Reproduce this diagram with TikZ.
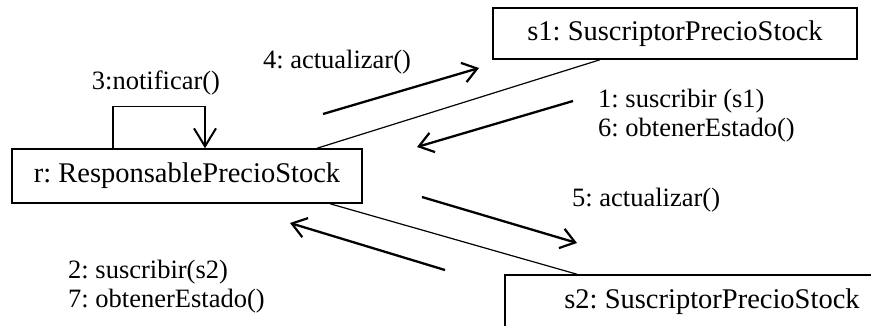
\documentclass[tikz,border=0pt]{standalone}
\usepackage{fontspec}
\setmainfont{Liberation Serif}
\usetikzlibrary{arrows.meta}
\frenchspacing
\tikzset{
  obj/.style={draw, line width=1.5pt, inner sep=0pt, font=\fontsize{28.5}{32}\selectfont},
  assoc/.style={line width=1.2pt},
  msg/.style={line width=2.3pt, -{Straight Barb[length=14pt,width=20pt,line width=2.2pt]}},
  selfmsg/.style={line width=1.5pt, -{Straight Barb[length=18pt,width=22pt,line width=2pt]}},
  lbl/.style={font=\fontsize{26.5}{29}\selectfont, inner sep=0pt, align=left},
}
\begin{document}
\begin{tikzpicture}[x=1pt,y=-1pt]
\useasboundingbox (0,0) rectangle (871,325);
% objects
\node[obj, minimum width=350pt, minimum height=54pt] (r) at (187,176) {r: ResponsablePrecioStock};
\node[obj, minimum width=364pt, minimum height=51pt] (s1) at (675,33.5) {s1: SuscriptorPrecioStock};
\node[obj, minimum width=414pt, minimum height=54pt] (s2) at (712,302) {s2: SuscriptorPrecioStock};
% associations
\draw[assoc] ([xshift=130pt]r.north) -- ([xshift=-75pt]s1.south);
\draw[assoc] ([xshift=143pt]r.south) -- ([xshift=-135pt]s2.north);
% self message
\draw[selfmsg] ([xshift=-74pt]r.north) -- ++(0,-42) -| ([xshift=18pt]r.north);
\node[lbl] (l3) at (156,83) {3:notificar()};
% message arrows
\coordinate (a4s) at (323,114); \coordinate (a4e) at (479,68);
\coordinate (a1s) at (573,101); \coordinate (a1e) at (417,147);
\coordinate (a5s) at (422,197); \coordinate (a5e) at (577,243);
\coordinate (a2s) at (445,270); \coordinate (a2e) at (290,223);
\draw[msg] (a4s) -- (a4e);
\draw[msg] (a1s) -- (a1e);
\draw[msg] (a5s) -- (a5e);
\draw[msg] (a2s) -- (a2e);
% labels
\node[lbl] (l4) at (337,62) {4: actualizar()};
\node[lbl, anchor=west] (l16) at (598,116) {1: suscribir (s1)\\6: obtenerEstado()};
\node[lbl, anchor=west] (l5) at (572,200) {5: actualizar()};
\node[lbl, anchor=west] (l27) at (68,287) {2: suscribir(s2)\\7: obtenerEstado()};
\end{tikzpicture}
\end{document}
